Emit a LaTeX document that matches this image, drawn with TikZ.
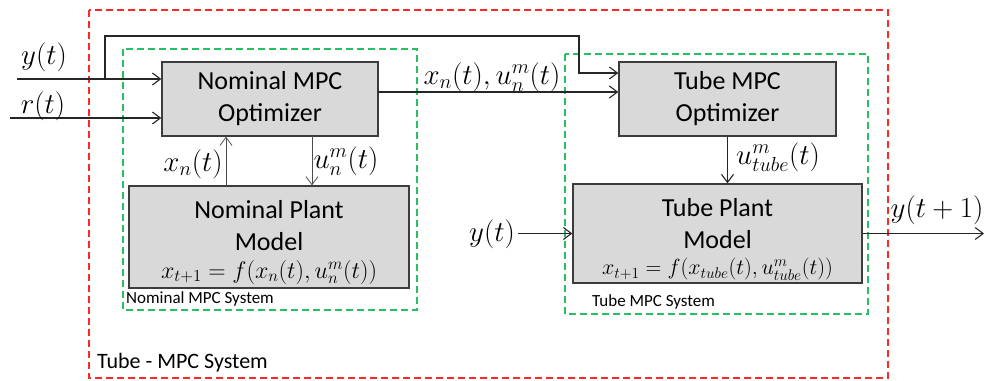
\RequirePackage{fix-cm}
\documentclass[tikz,border=0pt]{standalone}
\usepackage{fontspec}
\setmainfont{Carlito}
\usetikzlibrary{arrows.meta}
\definecolor{redd}{RGB}{255,40,40}
\definecolor{grn}{RGB}{40,190,100}
\definecolor{boxfill}{RGB}{217,217,217}
\definecolor{boxline}{RGB}{60,60,60}
\begin{document}
\begin{tikzpicture}[x=1pt,y=-1pt,
 box/.style={draw=boxline,fill=boxfill,line width=1.4pt,inner sep=0pt,align=center,font=\fontsize{26}{32}\selectfont},
 reddash/.style={draw=redd,line width=1.2pt,dash pattern=on 7pt off 4pt},
 grndash/.style={draw=grn,line width=1.2pt,dash pattern=on 7pt off 4pt},
 arr/.style={-{Straight Barb[length=8pt,width=12pt]},line width=1.1pt,draw=black!85},
 thinarr/.style={arr,line width=0.8pt,draw=black!70},
 mlab/.style={inner sep=0pt,font=\fontsize{29}{34}\selectfont},
 small/.style={inner sep=0pt,anchor=west,font=\fontsize{17}{20}\selectfont}
]
\useasboundingbox (0,0) rectangle (987,380);
% frames
\draw[reddash] (89,10) rectangle (888,378);
\draw[grndash] (123,49) rectangle (417,310);
\draw[grndash] (565,54) rectangle (868,314);
\node[small] (nomsys) at (126,299) {Nominal MPC System};
\node[small] (tubesys) at (592,302) {Tube MPC System};
\node[inner sep=0pt,anchor=west,font=\fontsize{22}{26}\selectfont] (allsys) at (97,363) {Tube - MPC System};
% boxes
\node[box,minimum width=216pt,minimum height=74pt] (nomopt) at (270,99) {Nominal MPC\\Optimizer};
\node[box,minimum width=280pt,minimum height=102pt] (nomplant) at (269,237)
  {\rule{0pt}{28pt}Nominal Plant\\Model\\[-4pt]{\fontsize{24}{28}\selectfont $x_{t+1}=f(x_n(t),u_n^m(t))$}};
\node[box,minimum width=217pt,minimum height=74pt] (tubeopt) at (727.5,99) {Tube MPC\\Optimizer};
\node[box,minimum width=289pt,minimum height=99pt] (tubeplant) at (717.5,233.5)
  {\rule{0pt}{30pt}Tube Plant\\Model\\[-6pt]{\fontsize{22}{26}\selectfont $x_{t+1}=f(x_{tube}(t),u_{tube}^m(t))$}};
% connectors
\coordinate (yin) at (17,79);
\draw[arr] (yin) -- (yin -| nomopt.west);
\coordinate (br) at (105,79);
\coordinate (top1) at (105,36);
\coordinate (top2) at (579,36);
\coordinate (tk) at (579,73);
\draw[arr] (br) -- (top1) -- (top2) -- (tk) -- (tk -| tubeopt.west);
\coordinate (rin) at (10,118);
\draw[arr] (rin) -- (rin -| nomopt.west);
\coordinate (xa) at (226,186);
\draw[thinarr] (xa) -- (xa |- nomopt.south);
\coordinate (ua) at (312,136);
\draw[thinarr] (ua) -- (ua |- nomplant.north);
\coordinate (xo) at (378,92);
\draw[arr] (xo) -- (xo -| tubeopt.west);
\draw[arr] (tubeopt.south) -- (tubeopt.south |- tubeplant.north);
\coordinate (yr) at (518,233.5);
\draw[arr] (yr) -- (tubeplant.west);
\coordinate (yout) at (984,233.5);
\draw[arr] (tubeplant.east) -- (yout);
% labels
\node[mlab] (ly) at (44,57) {$y(t)$};
\node[mlab] (lr) at (43,106) {$r(t)$};
\node[mlab] (lxn) at (193,164) {$x_n(t)$};
\node[mlab] (lun) at (346,161) {$u_n^m(t)$};
\node[mlab] (lxu) at (492,77) {$x_n(t),u_n^m(t)$};
\node[mlab] (lut) at (778,157) {$u_{tube}^m(t)$};
\node[mlab] (ly2) at (492,234) {$y(t)$};
\node[mlab] (lyo) at (937,210) {$y(t+1)$};
\end{tikzpicture}
\end{document}
